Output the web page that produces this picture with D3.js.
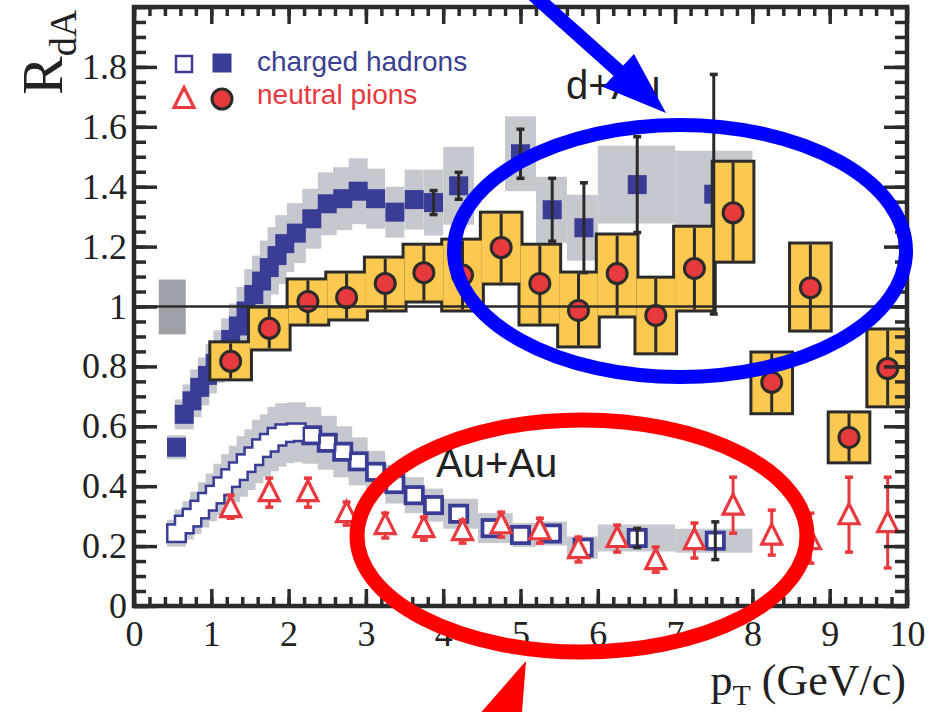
<!DOCTYPE html>
<html><head><meta charset="utf-8">
<script src="https://cdn.jsdelivr.net/npm/d3@7"></script>
<style>body{margin:0;background:#fff}svg{display:block}</style>
</head><body><svg id="c" width="938" height="712"></svg>
<script>
// ================= DATA =================
const xTickValues = [0,1,2,3,4,5,6,7,8,9,10];
const xTickLabels = ["0","1","2","3","4","5","6","7","8","9","10"];
const yTickValues = [0,0.2,0.4,0.6,0.8,1.0,1.2,1.4,1.6,1.8,2.0];
const yTickLabels = ["0","0.2","0.4","0.6","0.8","1","1.2","1.4","1.6","1.8",""];
const legendLabels = ["charged hadrons","neutral pions"];
const systemLabels = ["d+Au","Au+Au"];

// global normalization uncertainty box (pT extent, R extent)
const normBoxPt = [0.32, 0.67];
const normBoxR = [0.907, 1.09];

// d+Au charged hadrons (filled squares)
const dAuHadPt = [0.55,0.65,0.75,0.85,0.95,1.05,1.15,1.25,1.35,1.45,1.55,1.65,1.75,1.85,1.95,2.1,2.3,2.5,2.7,2.9,3.125,3.375,3.625,3.875,4.2,5.0,5.41,5.82,6.51,7.5];
const dAuHadR  = [0.53,0.64,0.685,0.73,0.77,0.81,0.85,0.89,0.935,0.985,1.04,1.085,1.13,1.17,1.21,1.245,1.293,1.343,1.36,1.385,1.36,1.315,1.357,1.347,1.403,1.51,1.323,1.263,1.407,1.375];
const dAuHadStat = [0,0,0,0,0,0,0,0,0,0,0,0,0,0,0,0,0,0,0,0,0,0,0,0.04,0.045,0.082,0.105,0.15,0.16,0.40];
const dAuHadSys  = [0.04,0.05,0.055,0.06,0.06,0.065,0.07,0.07,0.075,0.08,0.085,0.085,0.09,0.095,0.095,0.1,0.1,0.105,0.105,0.11,0.1,0.085,0.1,0.11,0.13,0.125,0.11,0.11,0.13,0.145];
const dAuHadBinLo = [null,null,null,null,null,null,null,null,null,null,null,null,null,null,null,null,null,null,null,null,null,null,null,null,4.0,4.8,5.2,5.6,6.0,7.0];
const dAuHadBinHi = [null,null,null,null,null,null,null,null,null,null,null,null,null,null,null,null,null,null,null,null,null,null,null,null,4.4,5.2,5.6,6.0,7.0,8.0];

// Au+Au charged hadrons (open squares)
const auAuHadPt = [0.55,0.65,0.75,0.85,0.95,1.05,1.15,1.25,1.35,1.45,1.55,1.65,1.75,1.85,1.95,2.1,2.3,2.5,2.7,2.9,3.125,3.375,3.625,3.875,4.2,4.62,5.0,5.4,5.81,6.51,7.52];
const auAuHadR  = [0.243,0.272,0.295,0.322,0.348,0.372,0.40,0.427,0.45,0.477,0.50,0.527,0.545,0.565,0.577,0.58,0.57,0.545,0.515,0.483,0.448,0.407,0.37,0.337,0.308,0.26,0.237,0.242,0.195,0.227,0.218];
const auAuHadStat = [0,0,0,0,0,0,0,0,0,0,0,0,0,0,0,0,0,0,0,0,0,0,0,0,0,0,0,0,0,0.032,0.063];
const auAuHadSys  = [0.045,0.05,0.055,0.06,0.065,0.07,0.075,0.08,0.085,0.09,0.09,0.095,0.095,0.1,0.1,0.1,0.095,0.09,0.085,0.08,0.07,0.065,0.06,0.055,0.05,0.05,0.04,0.04,0.037,0.045,0.04];
const auAuHadBinLo = [null,null,null,null,null,null,null,null,null,null,null,null,null,null,null,null,null,null,null,null,null,null,null,null,4.0,4.45,4.9,5.2,5.6,6.0,7.0];
const auAuHadBinHi = [null,null,null,null,null,null,null,null,null,null,null,null,null,null,null,null,null,null,null,null,null,null,null,null,4.45,4.9,5.2,5.6,6.0,7.0,8.0];

// d+Au neutral pions (filled circles with boxes)
const dAuPi0Pt = [1.25,1.75,2.25,2.75,3.25,3.75,4.25,4.75,5.25,5.75,6.25,6.75,7.25,7.75,8.25,8.75,9.25,9.75];
const dAuPi0R  = [0.817,0.927,1.017,1.03,1.077,1.113,1.105,1.197,1.077,0.987,1.11,0.97,1.127,1.313,0.747,1.063,0.563,0.793];
const dAuPi0Lo = [0.76,0.86,0.943,0.96,0.99,1.02,0.99,1.08,0.943,0.87,0.97,0.847,0.99,1.153,0.647,0.923,0.483,0.67];
const dAuPi0Hi = [0.877,0.993,1.087,1.11,1.16,1.203,1.22,1.31,1.203,1.11,1.237,1.093,1.263,1.48,0.843,1.207,0.643,0.92];

// Au+Au neutral pions (open triangles)
const auAuPi0Pt = [1.25,1.75,2.25,2.75,3.25,3.75,4.25,4.75,5.25,5.75,6.25,6.75,7.25,7.75,8.25,8.75,9.25,9.75];
const auAuPi0R  = [0.327,0.38,0.38,0.31,0.27,0.26,0.25,0.273,0.253,0.19,0.227,0.153,0.22,0.335,0.235,0.22,0.303,0.277];
const auAuPi0Lo = [0.293,0.33,0.33,0.27,0.227,0.22,0.21,0.23,0.21,0.147,0.18,0.113,0.16,0.243,0.17,0.143,0.18,0.127];
const auAuPi0Hi = [0.37,0.427,0.427,0.347,0.31,0.297,0.287,0.313,0.293,0.23,0.27,0.197,0.277,0.43,0.32,0.31,0.43,0.43];

// ================= RENDER =================
const svg = d3.select("#c");
svg.append("rect").attr("width",938).attr("height",712).attr("fill","#fff");
const x = d3.scaleLinear().domain([0,10]).range([134,907]);
const y = d3.scaleLinear().domain([0,2]).range([606,7]);

const DARK="#2b2b2b", BLUE="#393d96", GRAY="#c5c8cf", NORMGRAY="#9ea2a8",
      YEL="#fbc94f", RED="#e63a3c", TRI="#e8393e";
const SERIF="'Liberation Serif','Times New Roman',serif";
const SANS="'Liberation Sans',Arial,sans-serif";
const SQ=19, OW=16, OH=15, PI_HALF=0.25, UNION_MAX_PT=2.2;

const plot = svg.append("g");

// normalization box
plot.append("rect")
  .attr("x",x(normBoxPt[0])).attr("width",x(normBoxPt[1])-x(normBoxPt[0]))
  .attr("y",y(normBoxR[1])).attr("height",y(normBoxR[0])-y(normBoxR[1]))
  .attr("fill",NORMGRAY);

function sysBoxes(pt,R,sys,lo,hi){
  const d = pt.map((p,i)=>({
    x0: lo[i]==null ? x(p)-SQ/2 : x(lo[i]),
    x1: hi[i]==null ? x(p)+SQ/2 : x(hi[i]),
    y0: y(R[i]+sys[i]), y1: y(R[i]-sys[i])}));
  plot.append("g").selectAll("rect").data(d).join("rect")
    .attr("x",d=>d.x0).attr("width",d=>d.x1-d.x0)
    .attr("y",d=>d.y0).attr("height",d=>d.y1-d.y0)
    .attr("fill",GRAY);
}
sysBoxes(auAuHadPt,auAuHadR,auAuHadSys,auAuHadBinLo,auAuHadBinHi);
sysBoxes(dAuHadPt,dAuHadR,dAuHadSys,dAuHadBinLo,dAuHadBinHi);

// d+Au filled squares
plot.append("g").selectAll("rect").data(dAuHadPt.map((p,i)=>[p,dAuHadR[i]])).join("rect")
  .attr("x",d=>x(d[0])-SQ/2).attr("y",d=>y(d[1])-SQ/2)
  .attr("width",SQ).attr("height",SQ).attr("fill",BLUE);

// Au+Au open squares: union outline (strokes, then fills), then own outlines for sparse points
const auPts = auAuHadPt.map((p,i)=>[p,auAuHadR[i]]);
const og = plot.append("g");
og.selectAll("rect.o").data(auPts).join("rect").attr("class","o")
  .attr("x",d=>x(d[0])-OW/2).attr("y",d=>y(d[1])-OH/2)
  .attr("width",OW).attr("height",OH).attr("fill","none")
  .attr("stroke",BLUE).attr("stroke-width",5);
og.selectAll("rect.f").data(auPts).join("rect").attr("class","f")
  .attr("x",d=>x(d[0])-OW/2).attr("y",d=>y(d[1])-OH/2)
  .attr("width",OW).attr("height",OH).attr("fill","#fff");
og.selectAll("rect.s").data(auPts.filter(d=>d[0]>UNION_MAX_PT)).join("rect").attr("class","s")
  .attr("x",d=>x(d[0])-OW/2).attr("y",d=>y(d[1])-OH/2)
  .attr("width",OW).attr("height",OH).attr("fill","none")
  .attr("stroke",BLUE).attr("stroke-width",2.5);

// pi0 d+Au boxes (union outline)
const bins = dAuPi0Pt.map((p,i)=>({x0:x(p-PI_HALF),x1:x(p+PI_HALF),y0:y(dAuPi0Hi[i]),y1:y(dAuPi0Lo[i])}));
const pg = plot.append("g");
pg.selectAll("rect.o").data(bins).join("rect").attr("class","o")
  .attr("x",d=>d.x0).attr("width",d=>d.x1-d.x0).attr("y",d=>d.y0).attr("height",d=>d.y1-d.y0)
  .attr("fill","none").attr("stroke",DARK).attr("stroke-width",6);
pg.selectAll("rect.f").data(bins).join("rect").attr("class","f")
  .attr("x",d=>d.x0).attr("width",d=>d.x1-d.x0).attr("y",d=>d.y0).attr("height",d=>d.y1-d.y0)
  .attr("fill",YEL);

// unity line
plot.append("line").attr("x1",x(0)).attr("x2",x(10)).attr("y1",y(1)).attr("y2",y(1))
  .attr("stroke",DARK).attr("stroke-width",2.5);

// pi0 error lines and circles
pg.selectAll("line.e").data(dAuPi0Pt.map((p,i)=>i)).join("line").attr("class","e")
  .attr("x1",i=>x(dAuPi0Pt[i])).attr("x2",i=>x(dAuPi0Pt[i]))
  .attr("y1",i=>y(dAuPi0Hi[i])).attr("y2",i=>y(dAuPi0Lo[i]))
  .attr("stroke",DARK).attr("stroke-width",3);
pg.selectAll("circle").data(dAuPi0Pt.map((p,i)=>[p,dAuPi0R[i]])).join("circle")
  .attr("cx",d=>x(d[0])).attr("cy",d=>y(d[1])).attr("r",10)
  .attr("fill",RED).attr("stroke",DARK).attr("stroke-width",3);

// error bars for hadrons
function errBars(pt,R,err,color){
  const idx = pt.map((p,i)=>i).filter(i=>err[i]>0);
  const g = plot.append("g").attr("stroke",color).attr("stroke-width",3);
  idx.forEach(i=>{
    const cx=x(pt[i]), t=y(R[i]+err[i]), b=y(R[i]-err[i]);
    g.append("line").attr("x1",cx).attr("x2",cx).attr("y1",t).attr("y2",b);
    g.append("line").attr("x1",cx-4).attr("x2",cx+4).attr("y1",t).attr("y2",t).attr("stroke-width",3.5);
    g.append("line").attr("x1",cx-4).attr("x2",cx+4).attr("y1",b).attr("y2",b).attr("stroke-width",3.5);
  });
}
errBars(dAuHadPt,dAuHadR,dAuHadStat,DARK);
errBars(auAuHadPt,auAuHadR,auAuHadStat,DARK);

// Au+Au pi0 triangles
const tg = plot.append("g");
auAuPi0Pt.forEach((p,i)=>{
  const cx=x(p), t=y(auAuPi0Hi[i]), b=y(auAuPi0Lo[i]);
  tg.append("line").attr("x1",cx).attr("x2",cx).attr("y1",t).attr("y2",b).attr("stroke",TRI).attr("stroke-width",3);
  tg.append("line").attr("x1",cx-4).attr("x2",cx+4).attr("y1",t).attr("y2",t).attr("stroke",TRI).attr("stroke-width",3.5);
  tg.append("line").attr("x1",cx-4).attr("x2",cx+4).attr("y1",b).attr("y2",b).attr("stroke",TRI).attr("stroke-width",3.5);
});
const triPath = "M0,-11.5L10,8.5L-10,8.5Z";
tg.selectAll("path").data(auAuPi0Pt.map((p,i)=>[p,auAuPi0R[i]])).join("path")
  .attr("d",triPath).attr("transform",d=>`translate(${x(d[0])},${y(d[1])})`)
  .attr("fill","#fff").attr("stroke",TRI).attr("stroke-width",3.2).attr("stroke-linejoin","miter");

// ================= AXES =================
function tidy(g,noText){
  g.select(".domain").remove();
  g.selectAll(".tick line").attr("stroke",DARK).attr("stroke-width",3.5);
  if(noText) g.selectAll(".tick text").remove();
  else g.selectAll(".tick text").attr("fill","#222").style("font-family",SERIF).style("font-size","36px");
}
const xMinor = d3.range(0,10.001,0.2);
const yMinor = d3.range(0,2.0001,0.05);
// bottom
svg.append("g").attr("transform",`translate(0,${y(0)})`)
  .call(d3.axisBottom(x).tickValues(xMinor).tickSizeInner(-9).tickSizeOuter(0)).call(g=>tidy(g,true));
svg.append("g").attr("transform",`translate(0,${y(0)})`)
  .call(d3.axisBottom(x).tickValues(xTickValues).tickFormat((d,i)=>xTickLabels[i]).tickSizeInner(-17).tickSizeOuter(0).tickPadding(14)).call(g=>tidy(g,false));
// top
svg.append("g").attr("transform",`translate(0,${y(2)})`)
  .call(d3.axisTop(x).tickValues(xMinor).tickSizeInner(-9).tickSizeOuter(0)).call(g=>tidy(g,true));
svg.append("g").attr("transform",`translate(0,${y(2)})`)
  .call(d3.axisTop(x).tickValues(xTickValues).tickSizeInner(-17).tickSizeOuter(0)).call(g=>tidy(g,true));
// left
svg.append("g").attr("transform",`translate(${x(0)},0)`)
  .call(d3.axisLeft(y).tickValues(yMinor).tickSizeInner(-12).tickSizeOuter(0)).call(g=>tidy(g,true));
svg.append("g").attr("transform",`translate(${x(0)},0)`)
  .call(d3.axisLeft(y).tickValues(yTickValues).tickFormat((d,i)=>yTickLabels[i]).tickSizeInner(-23).tickSizeOuter(0).tickPadding(7)).call(g=>tidy(g,false));
// right
svg.append("g").attr("transform",`translate(${x(10)},0)`)
  .call(d3.axisRight(y).tickValues(yMinor).tickSizeInner(-12).tickSizeOuter(0)).call(g=>tidy(g,true));
svg.append("g").attr("transform",`translate(${x(10)},0)`)
  .call(d3.axisRight(y).tickValues(yTickValues).tickSizeInner(-23).tickSizeOuter(0)).call(g=>tidy(g,true));
// frame
svg.append("rect").attr("x",x(0)).attr("y",y(2)).attr("width",x(10)-x(0)).attr("height",y(0)-y(2))
  .attr("fill","none").attr("stroke",DARK).attr("stroke-width",4.5);

// axis titles
const yt = svg.append("text").attr("transform","translate(62,95) rotate(-90)")
  .attr("fill","#222").style("font-family",SERIF);
yt.append("tspan").style("font-size","58px").text("R");
yt.append("tspan").style("font-size","38px").attr("dy",14).text("dA");

const xt = svg.append("text").attr("x",906).attr("y",695).attr("text-anchor","end")
  .attr("fill","#222").style("font-family",SERIF).style("font-size","44px");
xt.append("tspan").text("p");
xt.append("tspan").style("font-size","30px").attr("dy",10).text("T");
xt.append("tspan").attr("dy",-10).text(" (GeV/c)");

// system labels
svg.append("text").attr("x",566).attr("y",99).attr("fill","#222")
  .style("font-family",SANS).style("font-size","40px").text(systemLabels[0]);
svg.append("text").attr("x",436).attr("y",477).attr("fill","#222")
  .style("font-family",SANS).style("font-size","40px").text(systemLabels[1]);

// legend
const lg = svg.append("g");
lg.append("rect").attr("x",176).attr("y",56).attr("width",16).attr("height",16)
  .attr("fill","#fff").attr("stroke",BLUE).attr("stroke-width",2.5);
lg.append("rect").attr("x",212.5).attr("y",53.5).attr("width",19).attr("height",19).attr("fill",BLUE);
lg.append("path").attr("d",triPath).attr("transform","translate(184,99)")
  .attr("fill","#fff").attr("stroke",TRI).attr("stroke-width",3.2);
lg.append("circle").attr("cx",222).attr("cy",99).attr("r",10).attr("fill",RED).attr("stroke",DARK).attr("stroke-width",3);
lg.append("text").attr("x",257).attr("y",71).attr("fill","#3b3f94")
  .style("font-family",SANS).style("font-size","28px").text(legendLabels[0]);
lg.append("text").attr("x",257).attr("y",104).attr("fill","#e8383d")
  .style("font-family",SANS).style("font-size","28px").text(legendLabels[1]);

// ================= ANNOTATIONS =================
const an = svg.append("g");
an.append("ellipse").attr("cx",680).attr("cy",251).attr("rx",226).attr("ry",126)
  .attr("fill","none").attr("stroke","#0000ff").attr("stroke-width",14);
an.append("line").attr("x1",528).attr("y1",-10).attr("x2",622).attr("y2",74)
  .attr("stroke","#0000ff").attr("stroke-width",14);
an.append("path").attr("d","M603,87L634,54L666,113Z").attr("fill","#0000ff");
an.append("ellipse").attr("cx",582).attr("cy",536).attr("rx",225).attr("ry",116)
  .attr("fill","none").attr("stroke","#ff0000").attr("stroke-width",15);
an.append("path").attr("d","M470,725L526,661L521,725Z").attr("fill","#ff0000");
</script></body></html>
